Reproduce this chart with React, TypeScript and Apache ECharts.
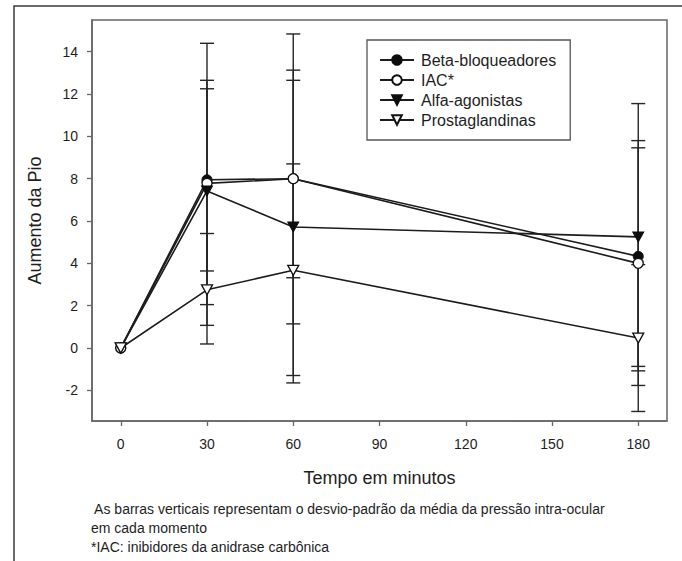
import React, { useEffect, useRef } from "react";
import * as echarts from "echarts";

const FONT = "'Liberation Sans', Arial, Helvetica, sans-serif";

const times = [0, 30, 60, 180];
const seriesNames = ["Beta-bloqueadores", "IAC*", "Alfa-agonistas", "Prostaglandinas"];

const beta = [0, 7.95, 8.0, 4.33];
const iac = [0, 7.78, 8.0, 4.0];
const alfa = [0, 7.42, 5.72, 5.25];
const prosta = [0, 2.75, 3.67, 0.47];

const betaLow = [null, 3.64, 3.32, -0.87];
const betaHigh = [null, 12.25, 12.65, 9.46];
const iacLow = [null, 1.07, 1.14, -1.77];
const iacHigh = [null, 14.4, 14.84, 9.8];
const alfaLow = [null, 2.05, -1.65, -1.08];
const alfaHigh = [null, 12.65, 13.13, 11.55];
const prostaLow = [null, 0.19, -1.3, -3.0];
const prostaHigh = [null, 5.41, 8.7, 3.94];

const xTicks = [0, 30, 60, 90, 120, 150, 180];
const yTicks = [-2, 0, 2, 4, 6, 8, 10, 12, 14];

const xTitle = "Tempo em minutos";
const yTitle = "Aumento da Pio";
const footnotes = [
  " As barras verticais representam o desvio-padrão da média da pressão intra-ocular",
  "em cada momento",
  "*IAC: inibidores da anidrase carbônica",
];

export default function App() {
  const ref = useRef<HTMLDivElement>(null);

  useEffect(() => {
    document.body.style.margin = "0";
    if (!ref.current) return;
    const chart = echarts.init(ref.current, null, { renderer: "svg" });

    const values = [beta, iac, alfa, prosta];
    const lows = [betaLow, iacLow, alfaLow, prostaLow];
    const highs = [betaHigh, iacHigh, alfaHigh, prostaHigh];
    const symbols = ["circle", "circle", "triangle", "triangle"];
    const rotates = [0, 0, 180, 180];
    const filled = [true, false, true, false];
    const sizes: any[] = [10, 10, [11, 10], [11, 10]];

    const errData: any[] = [];
    lows.forEach((lo, s) => {
      times.forEach((t, i) => {
        if (lo[i] !== null && highs[s][i] !== null) errData.push([t, lo[i], highs[s][i]]);
      });
    });

    const lineSeries = seriesNames.map((name, s) => ({
      name,
      type: "line",
      data: times.map((t, i) => [t, values[s][i]]),
      symbol: symbols[s],
      symbolRotate: rotates[s],
      symbolSize: sizes[s],
      showAllSymbol: true,
      z: 3,
      lineStyle: { color: "#1c1c1c", width: 1.6 },
      itemStyle: filled[s]
        ? { color: "#0d0d0d", borderColor: "#0d0d0d", borderWidth: 1 }
        : { color: "#fff", borderColor: "#111", borderWidth: 1.3 },
      emphasis: { disabled: true },
    }));

    const cap = 7;
    const errSeries = {
      name: "desvio-padrão",
      type: "custom",
      z: 1,
      data: errData,
      encode: { x: 0, y: [1, 2] },
      renderItem: (params: any, api: any) => {
        const x = api.value(0);
        const pLo = api.coord([x, api.value(1)]);
        const pHi = api.coord([x, api.value(2)]);
        const st = { stroke: "#262626", lineWidth: 1.4 };
        return {
          type: "group",
          children: [
            { type: "line", shape: { x1: pLo[0], y1: pLo[1], x2: pHi[0], y2: pHi[1] }, style: st },
            { type: "line", shape: { x1: pLo[0] - cap, y1: pLo[1], x2: pLo[0] + cap, y2: pLo[1] }, style: st },
            { type: "line", shape: { x1: pHi[0] - cap, y1: pHi[1], x2: pHi[0] + cap, y2: pHi[1] }, style: st },
          ],
        };
      },
    };

    const axisColor = "#666";
    const textColor = "#1e1e1e";

    chart.setOption({
      animation: false,
      backgroundColor: "#fff",
      textStyle: { fontFamily: FONT },
      grid: {
        left: 92,
        top: 20,
        right: 15,
        bottom: 140,
        show: true,
        borderColor: axisColor,
        borderWidth: 1.5,
        backgroundColor: "transparent",
      },
      legend: {
        data: seriesNames,
        orient: "vertical",
        left: 367,
        top: 40,
        padding: [12, 14, 12, 12],
        itemWidth: 34,
        itemHeight: 12,
        itemGap: 4,
        borderColor: "#555",
        borderWidth: 1.3,
        selectedMode: false,
        textStyle: { fontSize: 16, color: textColor, fontFamily: FONT, padding: [0, 0, 0, 2] },
      },
      xAxis: {
        type: "value",
        min: -10,
        max: 190,
        name: xTitle,
        nameLocation: "middle",
        nameGap: 48,
        nameTextStyle: { fontSize: 18, color: textColor, fontFamily: FONT },
        axisLine: { show: true, onZero: false, lineStyle: { color: axisColor, width: 1.5 } },
        axisTick: { show: true, length: 5, customValues: xTicks, lineStyle: { color: axisColor, width: 1.3 } },
        axisLabel: { customValues: xTicks, fontSize: 14, margin: 16, color: textColor, fontFamily: FONT },
        splitLine: { show: false },
      },
      yAxis: {
        type: "value",
        min: -3.45,
        max: 15.5,
        name: yTitle,
        nameLocation: "middle",
        nameGap: 48,
        nameTextStyle: { fontSize: 18, color: textColor, fontFamily: FONT },
        axisLine: { show: true, onZero: false, lineStyle: { color: axisColor, width: 1.5 } },
        axisTick: { show: true, length: 5, customValues: yTicks, lineStyle: { color: axisColor, width: 1.3 } },
        axisLabel: { customValues: yTicks, fontSize: 14, margin: 14, color: textColor, fontFamily: FONT },
        splitLine: { show: false },
      },
      graphic: [
        {
          type: "rect",
          silent: true,
          shape: { x: 14, y: 6, width: 720, height: 620 },
          style: { fill: "none", stroke: "#3a3a3a", lineWidth: 1.5 },
        },
        ...footnotes.map((t, i) => ({
          type: "text",
          silent: true,
          x: 91,
          y: [509, 528, 547][i],
          style: { text: t, fontSize: 14, fontFamily: FONT, fill: textColor, verticalAlign: "middle" },
        })),
      ],
      series: [errSeries, ...lineSeries],
    });

    return () => chart.dispose();
  }, []);

  return <div ref={ref} style={{ width: 682, height: 561 }} />;
}
